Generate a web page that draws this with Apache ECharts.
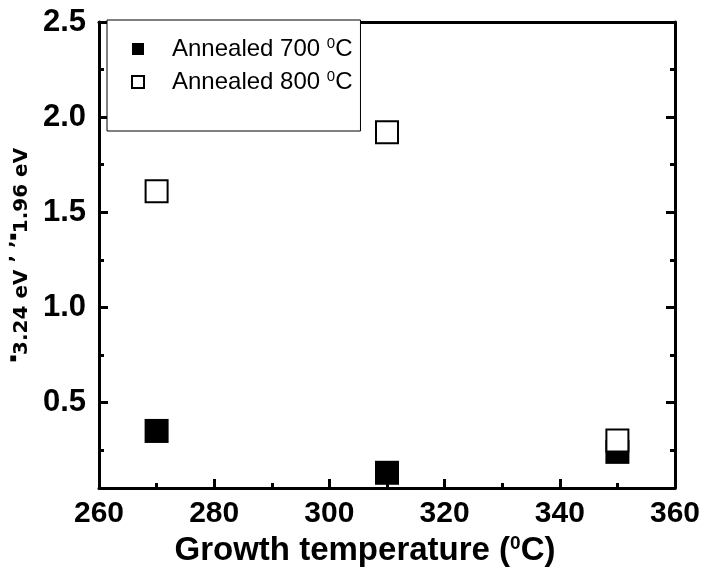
<!DOCTYPE html>
<html>
<head>
<meta charset="utf-8">
<script src="https://cdn.jsdelivr.net/npm/echarts@6/dist/echarts.min.js"></script>
<style>
  html, body { margin: 0; padding: 0; background: #fff; }
  #chart { width: 707px; height: 575px; }
</style>
</head>
<body>
<div id="chart"></div>
<script>
// Growth temperature (°C) of each sample
const growthTemps = [270, 310, 350];
// Intensity ratio after annealing at 700 °C and 800 °C
const annealed700 = [0.35, 0.13, 0.24];
const annealed800 = [1.61, 1.92, 0.30];
// Axis ticks
const yMajorTicks = [0.5, 1.0, 1.5, 2.0, 2.5];
const yMinorTicks = [0.25, 0.75, 1.25, 1.75, 2.25];
const xMin = 260, xMax = 360, xStep = 20;
const yMin = 0.05, yMax = 2.5;

const seriesNames = ['Annealed 700', 'Annealed 800'];

const FONT = 'Liberation Sans, Arial, sans-serif';
const BLACK = '#000';

function pairs(xs, ys) {
  return xs.map((x, i) => [x, ys[i]]);
}

function yAxisDef(position, ticks, tickLen, showLabel, showLine) {
  return {
    type: 'value', position: position, min: yMin, max: yMax,
    splitLine: { show: false },
    axisLine: { show: showLine, onZero: false, lineStyle: { color: BLACK, width: 3 } },
    axisTick: { show: true, inside: true, length: tickLen, customValues: ticks,
                lineStyle: { color: BLACK, width: 3 } },
    axisLabel: showLabel ? {
      show: true, customValues: ticks, margin: 13,
      fontFamily: FONT, fontWeight: 'bold', fontSize: 31, color: BLACK,
      formatter: v => v.toFixed(1)
    } : { show: false }
  };
}

const chart = echarts.init(document.getElementById('chart'), null, { renderer: 'canvas' });

chart.setOption({
  backgroundColor: '#fff',
  animation: false,
  grid: { left: 99, right: 32, top: 22, bottom: 87, containLabel: false },
  legend: {
    left: 107, top: 20, orient: 'vertical',
    data: seriesNames,
    backgroundColor: '#fff',
    borderColor: BLACK, borderWidth: 1,
    padding: [16, 8, 36, 24],
    itemWidth: 12, itemHeight: 12, itemGap: 7,
    textStyle: {
      fontFamily: FONT, fontSize: 24, color: BLACK, lineHeight: 26,
      padding: [0, 0, 0, 23],
      rich: { sup: { fontFamily: FONT, fontSize: 15, color: BLACK, verticalAlign: 'top', lineHeight: 26 } }
    },
    formatter: name => name + ' {sup|0}C'
  },
  xAxis: [{
    type: 'value', position: 'bottom', min: xMin, max: xMax, interval: xStep,
    splitLine: { show: false },
    axisLine: { onZero: false, lineStyle: { color: BLACK, width: 3 } },
    axisTick: { inside: true, length: 9, lineStyle: { color: BLACK, width: 3 } },
    minorTick: { show: true, splitNumber: 2, length: 5, lineStyle: { color: BLACK, width: 3 } },
    axisLabel: { margin: 11, fontFamily: FONT, fontWeight: 'bold', fontSize: 30, color: BLACK },
    name: 'Growth temperature ({sup|0}C)',
    nameLocation: 'middle', nameGap: 42,
    nameTextStyle: {
      fontFamily: FONT, fontWeight: 'bold', fontSize: 33, color: BLACK,
      padding: [0, 44, 0, 0],
      rich: { sup: { fontFamily: FONT, fontWeight: 'bold', fontSize: 19, color: BLACK, verticalAlign: 'top', lineHeight: 34 } }
    }
  }, {
    type: 'value', position: 'top', min: xMin, max: xMax, interval: xStep,
    splitLine: { show: false },
    axisLine: { onZero: false, lineStyle: { color: BLACK, width: 3 } },
    axisTick: { show: false }, axisLabel: { show: false }
  }],
  yAxis: [
    Object.assign(yAxisDef('left', yMajorTicks, 9, true, true), {
      name: '{b|\u25A0}{s|3.24 eV}{a| \u02BC \u02BC}{b|\u25A0}{s|1.96 eV}',
      nameLocation: 'middle', nameGap: 64, nameRotate: 90,
      nameTextStyle: {
        color: BLACK,
        rich: {
          b: { fontSize: 12, color: BLACK, verticalAlign: 'top', lineHeight: 24 },
          s: { fontFamily: 'DejaVu Sans', fontWeight: 'bold', fontSize: 20, color: BLACK, verticalAlign: 'bottom', lineHeight: 24 },
          a: { fontFamily: 'DejaVu Sans', fontWeight: 'bold', fontSize: 20, color: BLACK, verticalAlign: 'top', lineHeight: 24 }
        }
      }
    }),
    yAxisDef('left', yMinorTicks, 5, false, false),
    yAxisDef('right', yMajorTicks, 9, false, true),
    yAxisDef('right', yMinorTicks, 5, false, false)
  ],
  series: [{
    name: seriesNames[0], type: 'scatter', symbol: 'rect', symbolSize: 24,
    xAxisIndex: 0, yAxisIndex: 0,
    itemStyle: { color: BLACK, opacity: 1 },
    data: pairs(growthTemps, annealed700), z: 3
  }, {
    name: seriesNames[1], type: 'scatter', symbol: 'rect', symbolSize: 22,
    xAxisIndex: 0, yAxisIndex: 0,
    itemStyle: { color: '#fff', borderColor: BLACK, borderWidth: 2, opacity: 1 },
    data: pairs(growthTemps, annealed800), z: 4
  }]
});
</script>
</body>
</html>
